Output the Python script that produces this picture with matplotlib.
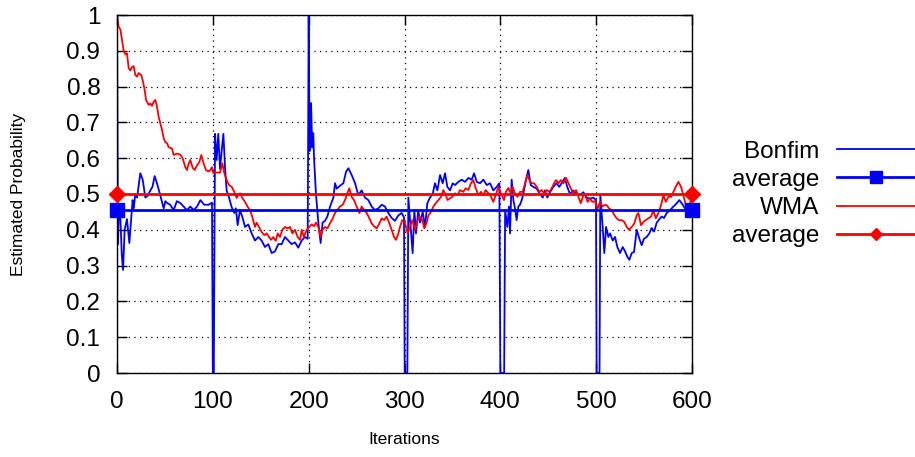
import matplotlib
matplotlib.use("Agg")
import matplotlib.pyplot as plt

plt.rcParams['font.family'] = ['Liberation Sans', 'DejaVu Sans']

# Bonfim estimate
bonfim_iter = [0, 1, 2, 3.5, 5, 6.3, 8, 10.4, 12.9, 16.3, 17.5, 19.1, 21, 24.3, 26.8, 29.6, 32, 34.8, 37, 39.3,
               41.7, 44.2, 48.7, 50.5, 52.2, 55.5, 59.1, 62.5, 66, 69.5, 73, 76.5, 80, 83.5, 87, 91, 95.6, 99.1,
               100, 101, 102.3, 104, 105.7, 107.5, 109.2, 111, 112.7, 114.4, 116.9, 119.7, 122.4, 124, 125.9,
               128.3, 130.8, 133.6, 137, 140.5, 144, 147.5, 150.9, 154.4, 157.9, 161.4, 164.9, 168.3, 171.8,
               175.3, 178.8, 182.2, 185.7, 189.2, 192.7, 196.1, 199, 200, 201, 202.5, 203.7, 204.8, 205.6, 207.6,
               210.1, 212.5, 214.5, 217, 219.5, 222.3, 225.8, 227.5, 229.3, 232.7, 236.2, 239, 241.4, 244.9,
               248.4, 251.8, 255.3, 258.8, 262.3, 265.7, 269.2, 272.7, 276.2, 279.6, 283.1, 286.6, 290.1, 293.5,
               297, 299.5, 300.2, 303, 304, 306, 308.5, 310.3, 312, 314.4, 316.2, 319, 321.4, 323.8, 326.6,
               329.4, 331.8, 334.3, 337.1, 339.8, 342.3, 344.7, 347.5, 350.3, 352.7, 356.2, 359.7, 363.2, 366.7,
               370.1, 372.6, 375.4, 378.8, 382.3, 385.8, 389.3, 392.7, 396.2, 399, 400, 404, 405, 407.3, 409,
               410.1, 411.8, 413.6, 415.3, 417, 418.8, 420.5, 422.3, 424, 426.8, 429.2, 431.7, 434.4, 437.9,
               441.4, 444.2, 446.6, 449, 451.8, 455.3, 458.7, 461.5, 463.9, 467.4, 469.8, 472.7, 476.1, 479.6,
               483.1, 486.6, 490, 493.5, 497, 499.8, 500.5, 503.5, 504.3, 506.8, 508.5, 510.3, 512.7, 514.5,
               517.3, 519.7, 522.1, 524.9, 527.7, 530.1, 532.5, 534.6, 537.1, 539.5, 542.3, 545.1, 547.5, 549.9,
               552.7, 555.5, 557.9, 560.4, 563.2, 566, 568.4, 570.8, 573.6, 577.1, 580.6, 584, 586.8, 589.3,
               592.7, 596.2, 600]
bonfim_prob = [1.0, 0.36, 0.46, 0.436, 0.33, 0.288, 0.40, 0.43, 0.363, 0.483, 0.46, 0.50, 0.49, 0.558, 0.54, 0.49,
               0.495, 0.51, 0.52, 0.55, 0.53, 0.506, 0.46, 0.48, 0.475, 0.47, 0.455, 0.48, 0.475, 0.465, 0.455,
               0.465, 0.455, 0.465, 0.483, 0.47, 0.47, 0.476,
               0.0, 0.0, 0.668, 0.595, 0.668, 0.57, 0.62, 0.668, 0.575, 0.51, 0.49, 0.463, 0.447, 0.46, 0.413,
               0.455, 0.436, 0.408, 0.415, 0.39, 0.37, 0.38, 0.37, 0.352, 0.36, 0.335, 0.34, 0.36, 0.36, 0.38,
               0.37, 0.36, 0.365, 0.35, 0.37, 0.38, 0.375, 1.0, 0.62, 0.754, 0.63, 0.67, 0.6, 0.5, 0.42, 0.363,
               0.42, 0.425, 0.437, 0.465, 0.49, 0.53, 0.515, 0.523, 0.53, 0.562, 0.572, 0.553, 0.53, 0.497,
               0.51, 0.49, 0.483, 0.465, 0.455, 0.46, 0.47, 0.465, 0.447, 0.433, 0.425, 0.44, 0.447, 0.435,
               0.0, 0.0, 0.49, 0.42, 0.335, 0.455, 0.39, 0.455, 0.42, 0.45, 0.408, 0.474, 0.49, 0.5, 0.53, 0.51,
               0.553, 0.53, 0.558, 0.52, 0.51, 0.53, 0.525, 0.534, 0.54, 0.534, 0.545, 0.54, 0.558, 0.534, 0.53,
               0.54, 0.525, 0.53, 0.51, 0.52, 0.53, 0.0, 0.0, 0.455, 0.408, 0.465, 0.39, 0.54, 0.483, 0.46,
               0.427, 0.465, 0.47, 0.483, 0.5, 0.54, 0.567, 0.525, 0.52, 0.515, 0.5, 0.49, 0.51, 0.49, 0.505,
               0.52, 0.53, 0.52, 0.53, 0.545, 0.52, 0.5, 0.51, 0.5, 0.497, 0.505, 0.49, 0.487, 0.49, 0.483,
               0.0, 0.0, 0.497, 0.408, 0.335, 0.408, 0.38, 0.39, 0.37, 0.38, 0.352, 0.335, 0.352, 0.34, 0.325,
               0.316, 0.335, 0.338, 0.40, 0.375, 0.357, 0.375, 0.38, 0.39, 0.405, 0.395, 0.42, 0.43, 0.437,
               0.433, 0.447, 0.455, 0.465, 0.474, 0.483, 0.474, 0.46, 0.458, 0.455]

# WMA estimate
wma_iter = [0, 1.7, 3.5, 5.2, 7, 8.7, 10.4, 12.2, 13.9, 15.7, 17.4, 19.1, 20.9, 22.6, 25.4, 26.8, 28.9, 30.3, 33,
            34.8, 36.5, 38.3, 40, 41.7, 43.5, 47, 48.7, 50.5, 52.2, 53.9, 57.4, 59.1, 62.6, 66.1, 68.5, 71.3, 73,
            74.8, 76.5, 79, 81.1, 83.5, 85.9, 88, 90.4, 92.9, 95.7, 97.4, 99.1, 100.5, 104, 107.5, 109.9, 112,
            114.4, 116.9, 119.7, 122.4, 124.9, 126.6, 128.4, 130.8, 133.6, 136.4, 138.8, 141.2, 144, 145.7,
            148.2, 151, 153.7, 156.2, 158.6, 160.7, 163.1, 165.6, 167.7, 170.1, 172.5, 175.3, 178.1, 180.5, 183,
            185.7, 188.5, 191, 192.7, 195.1, 197.9, 200.7, 203.1, 205.6, 207.6, 210.1, 212.5, 214.5, 217, 219.5,
            222.3, 225.1, 227.5, 229.9, 232.7, 235.5, 237.9, 240.4, 242.4, 244.9, 247.3, 250.1, 252.9, 255.3,
            257.8, 260.6, 263.4, 265.7, 268.2, 271, 273.8, 276.2, 278.6, 281.4, 284.2, 286.6, 289.1, 291.2,
            293.6, 295.3, 297.7, 300.5, 303.3, 305.7, 308.2, 311, 312.7, 315.2, 318, 320.7, 323.1, 324.9, 327.7,
            330.1, 332.5, 335.3, 338.1, 340.5, 342.3, 345, 347.5, 349.9, 352.7, 355.5, 357.9, 361.4, 363.8,
            366.6, 369.4, 371.8, 374.3, 377.1, 379.8, 382.3, 384.7, 387.5, 390.3, 392.7, 395.2, 398, 401.4,
            403.8, 405.9, 408.4, 410.8, 412.9, 415.3, 417.8, 420.5, 423.3, 425.8, 428.2, 430.3, 432.8, 435.2,
            438, 440.7, 443.2, 445.6, 448.4, 451.2, 453.6, 456.1, 458.2, 460.6, 463.1, 465.9, 468.6, 471.1,
            473.5, 476.3, 479.1, 481.5, 483.9, 486.7, 488.4, 491.1, 493.6, 496, 498.8, 501.6, 504, 506.5, 508.5,
            511, 513.4, 516.2, 519, 521.4, 523.9, 526.6, 529.4, 531.9, 534.3, 537.1, 539.9, 542.3, 544.1, 546.8,
            549.3, 551.7, 554.5, 557.3, 559.7, 562.2, 565, 567.7, 570.2, 572.6, 575.4, 578.2, 580.6, 583, 585.8,
            588.6, 591, 593.5, 596.3, 599, 600]
wma_prob = [1.0, 0.967, 0.96, 0.93, 0.90, 0.89, 0.893, 0.852, 0.845, 0.855, 0.857, 0.832, 0.828, 0.838, 0.832,
            0.818, 0.79, 0.763, 0.749, 0.753, 0.746, 0.758, 0.763, 0.745, 0.715, 0.679, 0.656, 0.645, 0.642,
            0.631, 0.627, 0.609, 0.613, 0.61, 0.60, 0.575, 0.567, 0.585, 0.595, 0.573, 0.567, 0.58, 0.589, 0.609,
            0.585, 0.567, 0.563, 0.567, 0.575, 0.558, 0.56, 0.56, 0.586, 0.558, 0.539, 0.525, 0.52, 0.506, 0.489,
            0.497, 0.502, 0.489, 0.478, 0.464, 0.455, 0.436, 0.408, 0.42, 0.408, 0.394, 0.385, 0.39, 0.38, 0.372,
            0.38, 0.369, 0.39, 0.38, 0.40, 0.408, 0.404, 0.408, 0.39, 0.40, 0.38, 0.372, 0.40, 0.38, 0.40, 0.408,
            0.415, 0.41, 0.42, 0.408, 0.38, 0.40, 0.408, 0.404, 0.418, 0.432, 0.447, 0.455, 0.465, 0.47, 0.483,
            0.502, 0.516, 0.492, 0.483, 0.465, 0.447, 0.465, 0.455, 0.447, 0.432, 0.418, 0.41, 0.404, 0.418,
            0.432, 0.427, 0.437, 0.418, 0.40, 0.38, 0.372, 0.39, 0.408, 0.427, 0.42, 0.39, 0.408, 0.427, 0.40,
            0.418, 0.437, 0.432, 0.404, 0.42, 0.44, 0.45, 0.465, 0.474, 0.483, 0.492, 0.511, 0.502, 0.483,
            0.488, 0.492, 0.502, 0.497, 0.511, 0.506, 0.516, 0.511, 0.53, 0.539, 0.516, 0.497, 0.506, 0.497,
            0.511, 0.502, 0.492, 0.478, 0.497, 0.52, 0.497, 0.483, 0.506, 0.517, 0.502, 0.52, 0.502, 0.492,
            0.506, 0.506, 0.53, 0.553, 0.539, 0.53, 0.53, 0.52, 0.506, 0.511, 0.502, 0.511, 0.506, 0.516, 0.53,
            0.539, 0.53, 0.539, 0.53, 0.545, 0.53, 0.516, 0.502, 0.511, 0.492, 0.474, 0.497, 0.497, 0.478,
            0.488, 0.478, 0.48, 0.46, 0.478, 0.465, 0.469, 0.469, 0.46, 0.455, 0.441, 0.432, 0.427, 0.427,
            0.422, 0.408, 0.40, 0.408, 0.418, 0.441, 0.447, 0.413, 0.422, 0.427, 0.432, 0.437, 0.455, 0.432,
            0.447, 0.469, 0.497, 0.478, 0.492, 0.492, 0.506, 0.52, 0.534, 0.52, 0.497, 0.469, 0.46, 0.483, 0.49]

# averages over the run
avg_iter = [0, 600]
bonfim_avg = 0.455
wma_avg = 0.50

x_ticks = [0, 100, 200, 300, 400, 500, 600]
y_ticks = [0, 0.1, 0.2, 0.3, 0.4, 0.5, 0.6, 0.7, 0.8, 0.9, 1]
y_labels = ['0', '0.1', '0.2', '0.3', '0.4', '0.5', '0.6', '0.7', '0.8', '0.9', '1']

fig = plt.figure(figsize=(9.15, 4.57), dpi=100)
ax = fig.add_axes([117 / 915, 1 - 373 / 457, 575 / 915, 358 / 457])

ax.plot(bonfim_iter, bonfim_prob, color='#0000ff', lw=1.3, label='Bonfim')
ax.plot(avg_iter, [bonfim_avg] * 2, color='#0000ff', lw=2.0, marker='s', ms=10,
        clip_on=False, label='average', zorder=4)
ax.plot(wma_iter, wma_prob, color='#ff0000', lw=1.3, label='WMA')
ax.plot(avg_iter, [wma_avg] * 2, color='#ff0000', lw=2.0, marker='D', ms=8,
        clip_on=False, label='average', zorder=5)

ax.set_xlim(0, 600)
ax.set_ylim(0, 1)
ax.set_xticks(x_ticks)
ax.set_yticks(y_ticks)
ax.set_yticklabels(y_labels)
ax.tick_params(direction='in', length=7, width=1, top=True, right=True, labelsize=17.5)
ax.tick_params(axis='y', pad=12)
ax.tick_params(axis='x', pad=13)
ax.grid(True, color='black', linestyle=(0, (1, 3.5)), linewidth=0.9)
for s in ax.spines.values():
    s.set_linewidth(1.0)

ax.set_xlabel('Iterations', fontsize=12.5)
ax.set_ylabel('Estimated Probability', fontsize=12.5)
ax.xaxis.set_label_coords(0.5, -0.165)
ax.yaxis.set_label_coords(-0.158, 0.5)

leg = ax.legend(loc='center right', bbox_to_anchor=(1.0, 1 - 194 / 457),
                bbox_transform=fig.transFigure, markerfirst=False, frameon=False,
                fontsize=17.5, handlelength=3.2, handletextpad=0.75,
                labelspacing=0.25, markerscale=0.8, borderaxespad=0, borderpad=0)

plt.savefig('out.png', dpi=100)
